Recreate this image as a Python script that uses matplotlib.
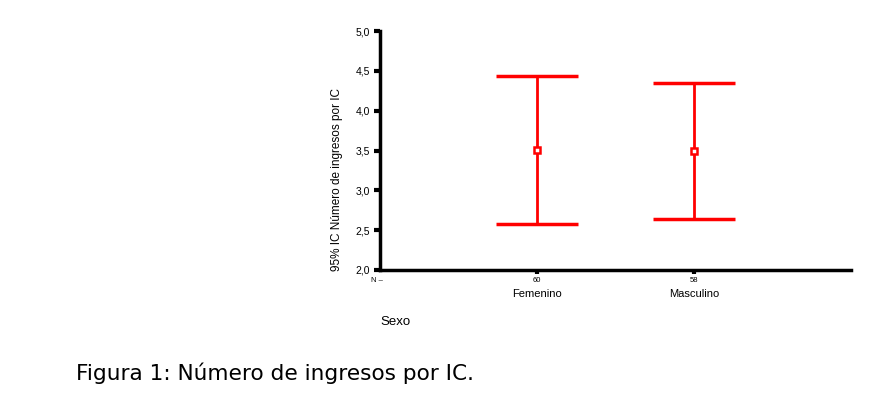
import numpy as np
import matplotlib.pyplot as plt

categories = ["Femenino", "Masculino"]
counts = [60, 58]
means = [3.51, 3.49]
lower = [2.58, 2.64]
upper = [4.44, 4.35]
yticks = [2.0, 2.5, 3.0, 3.5, 4.0, 4.5, 5.0]


def main():
    plt.rcParams['font.family'] = ['Liberation Sans', 'DejaVu Sans']

    fig = plt.figure(figsize=(8.72, 3.93), dpi=100)
    ax = fig.add_axes([0.4358, 0.313, 0.540, 0.608])

    x = np.arange(1, len(categories) + 1)
    m = np.array(means)
    err = [m - np.array(lower), np.array(upper) - m]
    ax.errorbar(x, m, yerr=err, fmt='none', ecolor='#ff0000',
                elinewidth=2, capsize=29.5, capthick=2.5)
    ax.plot(x, m, linestyle='none', marker='s', markersize=5,
            mfc='white', mec='#ff0000', mew=1.8)

    ax.set_xlim(0, 3)
    ax.set_ylim(2.0, 5.0)
    ax.set_yticks(yticks)
    ax.set_yticklabels([f"{t:.1f}".replace('.', ',') for t in yticks], fontsize=7.5)
    ax.tick_params(axis='y', direction='out', length=4, width=3, pad=3)

    ax.set_xticks(x)
    ax.set_xticklabels([str(c) for c in counts], fontsize=5.5)
    ax.tick_params(axis='x', direction='out', length=3, width=3, pad=2)
    for xi, cat in zip(x, categories):
        ax.text(xi, -0.1, cat, transform=ax.get_xaxis_transform(),
                ha='center', va='center', fontsize=8)
    ax.text(-0.02, -0.042, "N \u2013", transform=ax.get_xaxis_transform(),
            ha='center', va='center', fontsize=5.5)

    for s in ['top', 'right']:
        ax.spines[s].set_visible(False)
    ax.spines['left'].set_linewidth(2.5)
    ax.spines['bottom'].set_linewidth(2.5)

    ax.set_ylabel("95% IC N\u00famero de ingresos por IC", fontsize=8.5)
    ax.yaxis.set_label_coords(-0.078, 0.377)

    fig.text(380 / 872, 1 - 322 / 393, "Sexo", ha='left', va='center', fontsize=9.5)
    fig.text(76 / 872, 1 - 373 / 393, "Figura 1: N\u00famero de ingresos por IC.",
             ha='left', va='center', fontsize=15.6, family='DejaVu Sans')

    fig.savefig("out.png", dpi=100)


if __name__ == "__main__":
    main()
